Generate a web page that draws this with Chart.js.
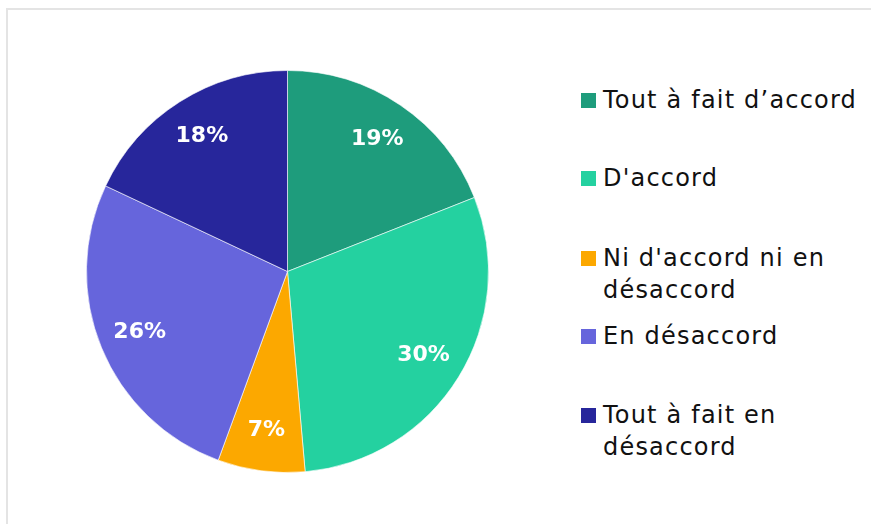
<!DOCTYPE html>
<html lang="fr">
<head>
    <meta charset="UTF-8" />
    <title>Répartition des réponses</title>
    <style>
        html, body {
            margin: 0;
            padding: 0;
            background: #fff;
            width: 871px;
            height: 524px;
            overflow: hidden;
            font-family: "DejaVu Sans", sans-serif;
        }
        #frame {
            position: absolute;
            left: 6px;
            top: 8px;
            width: 870px;
            height: 520px;
            border-left: 2px solid #e4e4e4;
            border-top: 2px solid #e4e4e4;
        }
        #chart-container {
            position: absolute;
            left: 86px;
            top: 70px;
            width: 403px;
            height: 403px;
        }
        #legend {
            position: absolute;
            left: 581px;
            top: 0;
        }
        .item {
            position: absolute;
            left: 0;
            white-space: nowrap;
            font-size: 24px;
            letter-spacing: 1.2px;
            line-height: 32px;
            color: #111;
        }
        .box {
            position: absolute;
            left: 0;
            top: 9px;
            width: 15px;
            height: 15px;
        }
        .txt {
            position: absolute;
            left: 22px;
            top: 0;
        }
    </style>
    <script src="https://cdn.jsdelivr.net/npm/chart.js"></script>
</head>
<body>
<div id="frame"></div>
<div id="chart-container">
    <canvas id="pieChart"></canvas>
</div>
<div id="legend"></div>

<script>
  const categories = [
    "Tout à fait d’accord",
    "D'accord",
    ["Ni d'accord ni en", "désaccord"],
    "En désaccord",
    ["Tout à fait en", "désaccord"]
  ];
  // parts (les étiquettes affichent la valeur arrondie)
  const values = [19, 29.6, 7, 26.4, 18];
  const colors = ["#1e9c7c", "#24d1a0", "#fca800", "#6665dc", "#27269b"];

  // labels des pourcentages, blanc gras dans les parts
  const pctLabels = {
    id: "pctLabels",
    afterDatasetsDraw(chart) {
      const ctx = chart.ctx;
      const meta = chart.getDatasetMeta(0);
      ctx.save();
      ctx.fillStyle = "#fff";
      ctx.font = "bold 22px 'DejaVu Sans', sans-serif";
      ctx.textAlign = "center";
      ctx.textBaseline = "middle";
      meta.data.forEach((arc, i) => {
        const p = arc.getProps(["x", "y", "startAngle", "endAngle", "outerRadius"], true);
        const mid = (p.startAngle + p.endAngle) / 2;
        const r = p.outerRadius * 0.795;
        ctx.fillText(Math.round(values[i]) + "%", p.x + Math.cos(mid) * r, p.y + Math.sin(mid) * r);
      });
      ctx.restore();
    }
  };

  const ctx = document.getElementById("pieChart").getContext("2d");
  const chart = new Chart(ctx, {
    type: "pie",
    data: {
      labels: categories,
      datasets: [
        {
          data: values,
          backgroundColor: colors,
          borderColor: "rgba(255, 255, 255, 0.6)",
          borderWidth: 1,
        },
      ],
    },
    options: {
      responsive: true,
      maintainAspectRatio: false,
      animation: false,
      layout: { padding: 0 },
      plugins: {
        legend: { display: false },
        tooltip: { enabled: false },
      },
    },
    plugins: [pctLabels],
  });

  // légende HTML à droite
  const itemTops = [84, 162, 242, 320, 399];
  const legend = document.getElementById("legend");
  chart.data.labels.forEach((label, i) => {
    const item = document.createElement("div");
    item.className = "item";
    item.style.top = itemTops[i] + "px";
    const box = document.createElement("span");
    box.className = "box";
    box.style.background = colors[i];
    const txt = document.createElement("span");
    txt.className = "txt";
    txt.innerHTML = (Array.isArray(label) ? label : [label]).join("<br>");
    item.appendChild(box);
    item.appendChild(txt);
    legend.appendChild(item);
  });
</script>
</body>
</html>
